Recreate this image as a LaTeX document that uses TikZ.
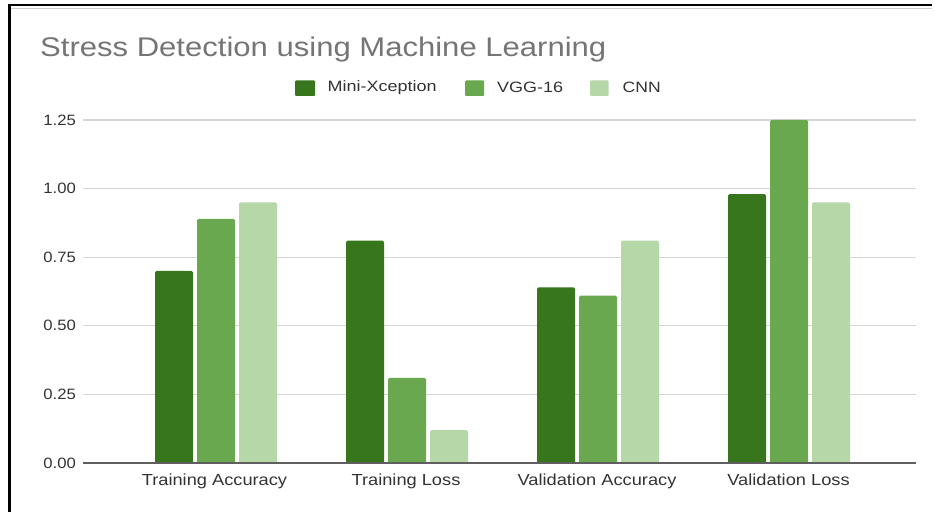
\documentclass[tikz,border=0pt]{standalone}
\usepackage{fontspec}
\setmainfont{Liberation Sans}
\definecolor{mx}{HTML}{38761D}
\definecolor{vgg}{HTML}{6AA84F}
\definecolor{cnn}{HTML}{B6D7A8}
\definecolor{titlegray}{HTML}{757575}
\definecolor{labelgray}{HTML}{333333}
\definecolor{gridgray}{HTML}{D6D6D6}
\definecolor{basegray}{HTML}{5F5F5F}
\newcommand{\stx}[2]{\scalebox{#1}[1]{#2}}
\tikzset{
  ttl/.style={anchor=base west, inner sep=0pt, text=titlegray, font=\fontsize{27bp}{32bp}\selectfont},
  leg/.style={anchor=west, inner sep=0pt, text=labelgray, font=\fontsize{15bp}{18bp}\selectfont},
  ylab/.style={anchor=east, inner sep=0pt, text=labelgray, font=\fontsize{15bp}{18bp}\selectfont},
  xlab/.style={anchor=base, inner sep=0pt, text=labelgray, font=\fontsize{16bp}{19bp}\selectfont},
  gridline/.style={draw=gridgray, line width=1.2bp},
  barshape/.style={rounded corners=1.5bp},
}
\begin{document}
\begin{tikzpicture}[x=1bp,y=-1bp]
\useasboundingbox (0,0) rectangle (935,512);
\fill[white] (0,0) rectangle (935,512);
% frame
\draw[gray!40, line width=1.5bp] (11,8.5) -- (932,8.5);
\draw[black, line width=2.2bp] (9.5,512) -- (9.5,5) -- (932,5);
% title
\node[ttl] (title) at (40,56.5) {\stx{1.15}{Stress Detection using Machine Learning}};
% legend
\fill[mx, rounded corners=1bp] (295,80.5) rectangle (315,96);
\node[leg] (legmx) at (327.5,87.5) {\stx{1.2}{Mini-Xception}};
\fill[vgg, rounded corners=1bp] (465,80.5) rectangle (484,96);
\node[leg] (legvgg) at (497,87.5) {\stx{1.2}{VGG-16}};
\fill[cnn, rounded corners=1bp] (590,80.5) rectangle (608.5,96);
\node[leg] (legcnn) at (622.5,87.5) {\stx{1.17}{CNN}};
% gridlines and y labels
\foreach \v/\yy [count=\i] in {1.25/120, 1.00/188.6, 0.75/257.2, 0.50/325.8, 0.25/394.4} {
  \draw[gridline] (83,\yy) -- (916,\yy);
  \node[ylab] (ylab\i) at (76,\yy) {\stx{1.11}{\v}};
}
\node[ylab] (ylab0) at (76,463) {\stx{1.11}{0.00}};
% bars
\foreach \xo/\a/\b/\c in {0/0.70/0.89/0.95, 191/0.81/0.31/0.12, 382/0.64/0.61/0.81, 573/0.98/1.25/0.95} {
  \fill[mx, barshape] (155+\xo,465) rectangle (193+\xo,{463-274.4*\a});
  \fill[vgg, barshape] (197+\xo,465) rectangle (235+\xo,{463-274.4*\b});
  \fill[cnn, barshape] (239+\xo,465) rectangle (277+\xo,{463-274.4*\c});
}
% baseline
\fill[white] (83,464) rectangle (917,468);
\draw[basegray, line width=1.4bp] (83,463) -- (916,463);
% category labels
\node[xlab] (cat1) at (214.5,485) {\stx{1.14}{Training Accuracy}};
\node[xlab] (cat2) at (406,485) {\stx{1.14}{Training Loss}};
\node[xlab] (cat3) at (597,485) {\stx{1.14}{Validation Accuracy}};
\node[xlab] (cat4) at (788.5,485) {\stx{1.14}{Validation Loss}};
\end{tikzpicture}
\end{document}
